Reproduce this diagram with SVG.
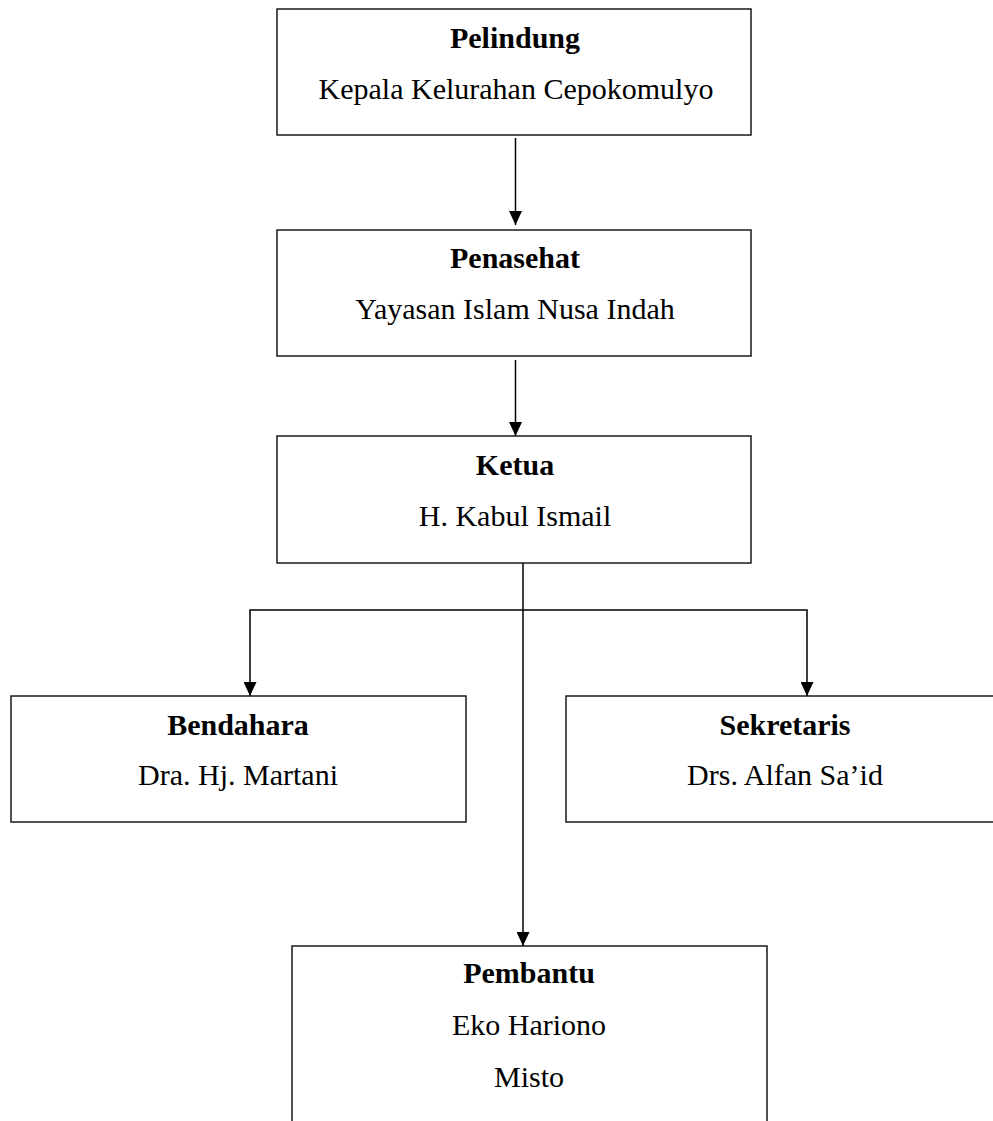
<svg xmlns="http://www.w3.org/2000/svg" width="993" height="1121" viewBox="0 0 993 1121">
<style>
.box{fill:#fff;stroke:#1a1a1a;stroke-width:1.5}
.ln{fill:none;stroke:#000;stroke-width:1.5}
.h{font-family:"Liberation Serif","Times New Roman",serif;font-weight:bold;font-size:30px;text-anchor:middle;fill:#000}
.t{font-family:"Liberation Serif","Times New Roman",serif;font-size:30px;text-anchor:middle;fill:#000}
</style>
<defs>
<marker id="arr" viewBox="0 0 14 13" markerWidth="14" markerHeight="13" refX="14" refY="6.5" orient="auto" markerUnits="userSpaceOnUse">
<path d="M0,0 L14,6.5 L0,13 z" fill="#000"/>
</marker>
</defs>
<rect width="993" height="1121" fill="#fff"/>
<g id="connectors">
<line class="ln" x1="515.5" y1="138" x2="515.5" y2="225" marker-end="url(#arr)"/>
<line class="ln" x1="515.5" y1="360" x2="515.5" y2="436" marker-end="url(#arr)"/>
<line class="ln" x1="523" y1="563" x2="523" y2="946" marker-end="url(#arr)"/>
<polyline class="ln" points="523,610 250,610 250,696" marker-end="url(#arr)"/>
<polyline class="ln" points="523,610 807,610 807,696" marker-end="url(#arr)"/>
</g>
<g id="pelindung">
<rect class="box" x="277" y="9" width="474" height="126"/>
<text class="h" x="515" y="48">Pelindung</text>
<text class="t" x="516" y="99">Kepala Kelurahan Cepokomulyo</text>
</g>
<g id="penasehat">
<rect class="box" x="277" y="230" width="474" height="126"/>
<text class="h" x="515" y="268">Penasehat</text>
<text class="t" x="515" y="319">Yayasan Islam Nusa Indah</text>
</g>
<g id="ketua">
<rect class="box" x="277" y="436" width="474" height="127"/>
<text class="h" x="515" y="475">Ketua</text>
<text class="t" x="515" y="526">H. Kabul Ismail</text>
</g>
<g id="bendahara">
<rect class="box" x="11" y="696" width="455" height="126"/>
<text class="h" x="238" y="735">Bendahara</text>
<text class="t" x="238" y="785">Dra. Hj. Martani</text>
</g>
<g id="sekretaris">
<rect class="box" x="566" y="696" width="440" height="126"/>
<text class="h" x="785" y="735">Sekretaris</text>
<text class="t" x="785" y="785">Drs. Alfan Sa’id</text>
</g>
<g id="pembantu">
<rect class="box" x="292" y="946" width="475" height="200"/>
<text class="h" x="529" y="983">Pembantu</text>
<text class="t" x="529" y="1035">Eko Hariono</text>
<text class="t" x="529" y="1087">Misto</text>
</g>
</svg>
